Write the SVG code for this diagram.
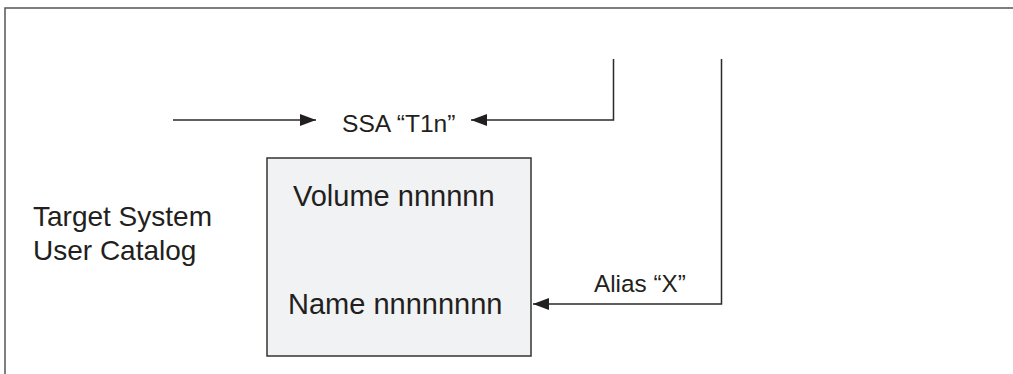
<svg xmlns="http://www.w3.org/2000/svg" width="1013" height="374" viewBox="0 0 1013 374">
<style>
.t{font-family:"Liberation Sans",Arial,sans-serif;fill:#231f20}
.ln{fill:none;stroke:#2a2a2a;stroke-width:1.5}
</style>
<defs>
<marker id="ah" markerUnits="userSpaceOnUse" markerWidth="16" markerHeight="12" refX="16" refY="6" orient="auto">
<path d="M0,0 L16,6 L0,12 Z" fill="#231f20"/>
</marker>
</defs>
<rect x="0" y="0" width="1013" height="374" fill="#ffffff"/>
<rect x="5" y="8" width="1030" height="400" fill="none" stroke="#555" stroke-width="1.5"/>
<g id="label-target">
<text class="t" x="33" y="226" font-size="28">Target System</text>
<text class="t" x="33" y="260" font-size="28">User Catalog</text>
</g>
<g id="node-catalog">
<rect x="267" y="158" width="264" height="198" fill="#f1f2f4" stroke="#333" stroke-width="1.5"/>
<text class="t" x="293" y="206" font-size="29">Volume nnnnnn</text>
<text class="t" x="288" y="314" font-size="29">Name nnnnnnnn</text>
</g>
<g id="label-ssa">
<text class="t" x="342" y="132" font-size="24.6">SSA “T1n”</text>
</g>
<g id="label-alias">
<text class="t" x="594" y="292" font-size="24.3">Alias “X”</text>
</g>
<g id="connectors">
<line class="ln" x1="173" y1="120" x2="316" y2="120" marker-end="url(#ah)"/>
<polyline class="ln" points="613.5,59 613.5,120 471,120" marker-end="url(#ah)"/>
<polyline class="ln" points="721.5,59 721.5,304 533,304" marker-end="url(#ah)"/>
</g>
</svg>
